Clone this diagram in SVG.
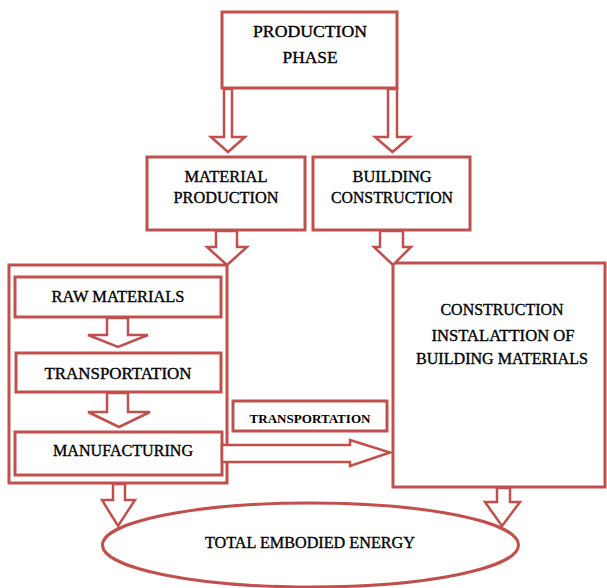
<svg xmlns="http://www.w3.org/2000/svg" width="607" height="588" viewBox="0 0 607 588">
<style>
.box{fill:#fff;stroke:#c0504d;stroke-width:3}
.arr{fill:#fff;stroke:#c0504d;stroke-width:2.5;stroke-linejoin:miter}
.t{font-family:"Liberation Serif","Times New Roman",serif;font-size:16px;font-weight:normal;fill:#000;stroke:#000;stroke-width:0.35;text-anchor:middle}
.s{font-size:13px;font-weight:bold;stroke-width:0}
</style>
<rect width="607" height="588" fill="#fff"/>
<g id="production-phase">
<rect class="box" x="222" y="12" width="175" height="76"/>
<text class="t" x="310" y="37" textLength="114" lengthAdjust="spacingAndGlyphs">PRODUCTION</text>
<text class="t" x="310" y="63" textLength="55" lengthAdjust="spacingAndGlyphs">PHASE</text>
</g>
<g id="material-production">
<rect class="box" x="147" y="157" width="158" height="73"/>
<text class="t" x="226" y="182" textLength="83" lengthAdjust="spacingAndGlyphs">MATERIAL</text>
<text class="t" x="226" y="203" textLength="105" lengthAdjust="spacingAndGlyphs">PRODUCTION</text>
</g>
<g id="building-construction">
<rect class="box" x="313" y="157" width="157" height="73"/>
<text class="t" x="392" y="182" textLength="79" lengthAdjust="spacingAndGlyphs">BUILDING</text>
<text class="t" x="392" y="203" textLength="122" lengthAdjust="spacingAndGlyphs">CONSTRUCTION</text>
</g>
<g id="material-container">
<rect class="box" x="9" y="265" width="218" height="218"/>
</g>
<g id="raw-materials">
<rect class="box" x="15" y="277" width="206" height="40"/>
<text class="t" x="118" y="302" textLength="133" lengthAdjust="spacingAndGlyphs">RAW MATERIALS</text>
</g>
<g id="transportation-1">
<rect class="box" x="16" y="353" width="205" height="39"/>
<text class="t" x="118" y="379" textLength="147" lengthAdjust="spacingAndGlyphs">TRANSPORTATION</text>
</g>
<g id="manufacturing">
<rect class="box" x="15" y="432" width="207" height="43"/>
<text class="t" x="123" y="456" textLength="140" lengthAdjust="spacingAndGlyphs">MANUFACTURING</text>
</g>
<g id="construction-installation">
<rect class="box" x="393" y="263" width="212" height="224"/>
<text class="t" x="502" y="315" textLength="123" lengthAdjust="spacingAndGlyphs">CONSTRUCTION</text>
<text class="t" x="503" y="341" textLength="143" lengthAdjust="spacingAndGlyphs">INSTALATTION OF</text>
<text class="t" x="502" y="364" textLength="172" lengthAdjust="spacingAndGlyphs">BUILDING MATERIALS</text>
</g>
<g id="transportation-2">
<rect class="box" x="233" y="401" width="154" height="30"/>
<text class="t s" x="310" y="423" textLength="121" lengthAdjust="spacingAndGlyphs">TRANSPORTATION</text>
</g>
<g id="total-embodied-energy">
<ellipse class="box" cx="310.5" cy="545" rx="208" ry="42"/>
<text class="t" x="310" y="548" textLength="210" lengthAdjust="spacingAndGlyphs">TOTAL EMBODIED ENERGY</text>
</g>
<g id="connectors">
<polygon class="arr" points="224,89 232,89 232,137 245,137 228,152 211,137 224,137"/>
<polygon class="arr" points="388,89 397,89 397,137 410,137 392.5,152 375,137 388,137"/>
<polygon class="arr" points="216,231 237,231 237,247 247,247 227,265 207,247 216,247"/>
<polygon class="arr" points="380,231 403,231 403,247 411,247 393,265 374,247 380,247"/>
<polygon class="arr" points="107,318 128,318 128,335 148,335 118,347 88,335 107,335"/>
<polygon class="arr" points="107,393 128,393 128,412 150,412 119,427 88,412 107,412"/>
<polygon class="arr" points="222,445 350,445 350,440 390,452.5 350,466 350,462 222,462"/>
<polygon class="arr" points="113,484 125,484 125,500 135,500 118,526 102,500 113,500"/>
<polygon class="arr" points="497,488 510,488 510,502 520,502 502,526 485,502 497,502"/>
</g>
</svg>
